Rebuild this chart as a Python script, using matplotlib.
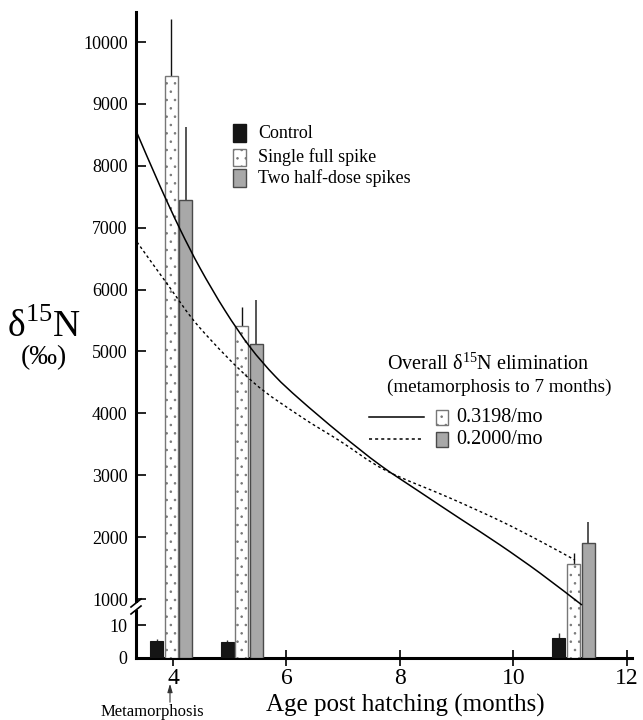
import numpy as np
import matplotlib
matplotlib.use("Agg")
import matplotlib.pyplot as plt
from matplotlib.patches import Rectangle, PathPatch
from matplotlib.lines import Line2D
from matplotlib.path import Path
from matplotlib.transforms import IdentityTransform

plt.rcParams['font.family'] = ['Liberation Serif', 'DejaVu Serif']
plt.rcParams['mathtext.fontset'] = 'custom'
plt.rcParams['mathtext.rm'] = 'Liberation Serif'
plt.rcParams['hatch.linewidth'] = 0.6

# ---------------- data ----------------
ages = [3.97, 5.21, 11.06]                 # sampling age (months) - group centres
control = [5.2, 4.8, 6.1]
control_err = [0.6, 0.7, 1.3]
single = [9451, 5411, 1566]
single_err = [920, 309, 177]
two_half = [7447, 5120, 1905]
two_half_err = [1184, 711, 339]

# elimination curves
solid_x = [3.366, 3.771, 4.123, 4.476, 4.916, 5.357, 5.797, 6.238, 6.943, 7.648, 8.352, 9.057, 9.762, 10.467, 11.207]
solid_y = [8529, 7673, 6978, 6348, 5662, 5072, 4603, 4223, 3674, 3165, 2729, 2300, 1875, 1420, 772]
dot_x = [3.366, 3.912, 4.476, 5.410, 6.238, 6.943, 7.736, 8.881, 9.762, 10.467, 11.084]
dot_y = [6768, 6073, 5379, 4506, 3957, 3553, 3084, 2632, 2265, 1937, 1630]

yticks = [0, 10, 1000, 2000, 3000, 4000, 5000, 6000, 7000, 8000, 9000, 10000]
xticks = [4, 6, 8, 10, 12]

# ---------------- broken y scale ----------------
K_LOW = 3.25
GAP = 26.0
K_HIGH = 0.06189

def fwd(y):
    y = np.asarray(y, dtype=float)
    return np.where(y <= 10, y * K_LOW,
           np.where(y <= 1000, 10 * K_LOW + (y - 10) / 990 * GAP,
                    10 * K_LOW + GAP + (y - 1000) * K_HIGH))

def inv(v):
    v = np.asarray(v, dtype=float)
    a = 10 * K_LOW
    b = a + GAP
    return np.where(v <= a, v / K_LOW,
           np.where(v <= b, 10 + (v - a) / GAP * 990,
                    1000 + (v - b) / K_HIGH))

W, H = 643, 720
fig = plt.figure(figsize=(W / 100, H / 100), dpi=100)

def fx(px):
    return px / W

def fy(py):
    return 1 - py / H

ax = fig.add_axes([fx(136), fy(657.5), fx(632) - fx(136), fy(12) - fy(657.5)])
ax.set_yscale('function', functions=(fwd, inv))
ax.set_xlim(3.348, 12.09)
ax.set_ylim(0, 10485)

bw = 0.229
off = 0.257
xs = np.array(ages)

ax.bar(xs - off, control, width=bw, color='#151515', edgecolor='#151515', linewidth=0.8, zorder=3)
ax.bar(xs, single, width=bw, color='white', edgecolor='#777777', hatch='..', linewidth=1.0, zorder=3)
ax.bar(xs + off, two_half, width=bw, color='#a8a8a8', edgecolor='#4a4a4a', linewidth=1.0, zorder=3)

# upward-only error bars
ax.vlines(xs - off, control, np.array(control) + np.array(control_err), color='#333333', lw=1.0, zorder=2)
ax.vlines(xs, single, np.array(single) + np.array(single_err), color='#111111', lw=1.0, zorder=2)
ax.vlines(xs + off, two_half, np.array(two_half) + np.array(two_half_err), color='#555555', lw=1.4, zorder=2)


def smooth_curve(xv, yv, **kw):
    """Draw a Catmull-Rom curve through the read points (in display space)."""
    pts = ax.transData.transform(np.column_stack([xv, yv]))
    n = len(pts)
    ext = np.vstack([pts[0], pts, pts[-1]])
    verts = [pts[0]]
    codes = [Path.MOVETO]
    for i in range(n - 1):
        p0, p1, p2, p3 = ext[i], ext[i + 1], ext[i + 2], ext[i + 3]
        c1 = p1 + (p2 - p0) / 6.0
        c2 = p2 - (p3 - p1) / 6.0
        verts += [c1, c2, p2]
        codes += [Path.CURVE4] * 3
    patch = PathPatch(Path(verts, codes), transform=IdentityTransform(), fill=False, zorder=4, **kw)
    fig.add_artist(patch)


for s in ['top', 'right']:
    ax.spines[s].set_visible(False)
ax.spines['left'].set_linewidth(2.2)
ax.spines['bottom'].set_linewidth(2.2)

ax.set_yticks(yticks)
ax.set_yticklabels([str(t) for t in yticks], fontsize=13)
ax.tick_params(axis='y', direction='in', length=7, width=1.2, pad=6)
ax.set_xticks(xticks)
ax.set_xticklabels([str(t) for t in xticks], fontsize=17)
ax.tick_params(axis='x', direction='inout', length=11, width=1.2, pad=2)
ax.minorticks_off()

smooth_curve(solid_x, solid_y, edgecolor='black', lw=1.1)
smooth_curve(dot_x, dot_y, edgecolor='black', lw=1.0, linestyle=(0, (2, 2)))

fig.text(fx(405), fy(705), 'Age post hatching (months)', fontsize=18, ha='center', va='center')

# axis break marks
fig.add_artist(Rectangle((fx(132), fy(610)), fx(141) - fx(132), fy(603) - fy(610),
                         facecolor='white', edgecolor='none', transform=fig.transFigure, zorder=10))
for y0 in (603, 610):
    fig.add_artist(Line2D([fx(131), fx(141)], [fy(y0 + 4), fy(y0 - 4)], color='black', lw=1.2,
                          transform=fig.transFigure, zorder=11))

# y label
fig.text(fx(44), fy(327), r'δ$^{15}$N', fontsize=27, ha='center', va='center')
fig.text(fx(44), fy(358), '(‰)', fontsize=20, ha='center', va='center')

# metamorphosis annotation
fig.text(fx(152), fy(712), 'Metamorphosis', fontsize=12, ha='center', va='center')
ax.annotate('', xy=(fx(170), fy(681)), xytext=(fx(170), fy(705)), xycoords='figure fraction',
            textcoords='figure fraction',
            arrowprops=dict(arrowstyle='-|>,head_length=0.5,head_width=0.15', color='#333333', lw=0.8),
            annotation_clip=False)

# legend 1 (manual)
leg1 = [('Control', dict(facecolor='#151515', edgecolor='#151515'), 133),
        ('Single full spike', dict(facecolor='white', edgecolor='#777777', hatch='..'), 157),
        ('Two half-dose spikes', dict(facecolor='#a8a8a8', edgecolor='#4a4a4a'), 178)]
for label, style, yc in leg1:
    fig.add_artist(Rectangle((fx(233), fy(yc + 8.5)), fx(246) - fx(233), fy(yc - 8.5) - fy(yc + 8.5),
                             transform=fig.transFigure, linewidth=1.0, **style))
    fig.text(fx(258), fy(yc), label, fontsize=13, ha='left', va='center')

# legend 2 (manual)
fig.text(fx(387), fy(364), r'Overall δ$^{15}$N elimination', fontsize=14.5, ha='left', va='center')
fig.text(fx(387), fy(387), '(metamorphosis to 7 months)', fontsize=13.8, ha='left', va='center')
leg2 = [('0.3198/mo', '-', dict(facecolor='white', edgecolor='#777777', hatch='..'), 417),
        ('0.2000/mo', (0, (2, 2)), dict(facecolor='#a8a8a8', edgecolor='#4a4a4a'), 439)]
for label, ls, style, yc in leg2:
    fig.add_artist(Line2D([fx(369), fx(424)], [fy(yc), fy(yc)], color='black', lw=1.1, ls=ls,
                          transform=fig.transFigure))
    fig.add_artist(Rectangle((fx(436), fy(yc + 7.5)), fx(448) - fx(436), fy(yc - 7.5) - fy(yc + 7.5),
                             transform=fig.transFigure, linewidth=1.0, **style))
    fig.text(fx(456), fy(yc), label, fontsize=14.5, ha='left', va='center')

fig.savefig('out.png', dpi=100)
